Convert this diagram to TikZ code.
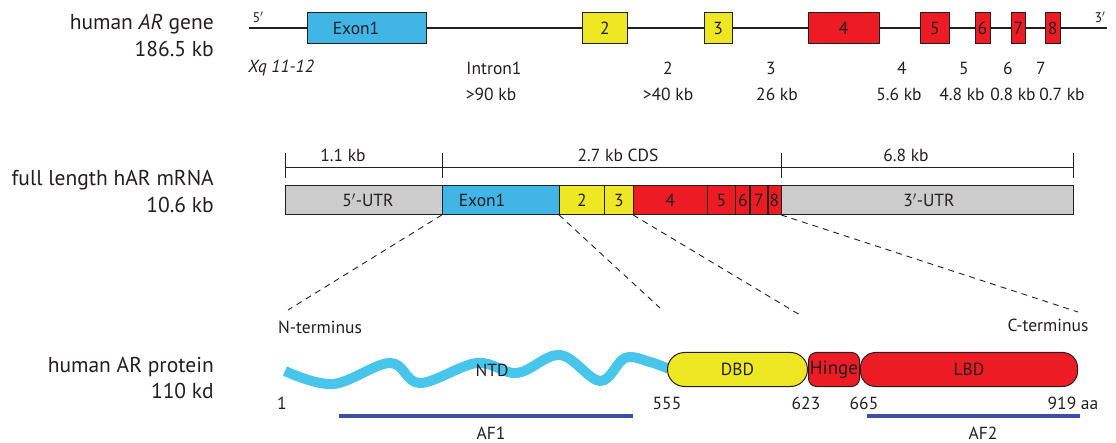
\documentclass[tikz,border=0pt]{standalone}
\usepackage{fontspec}
\setmainfont{PT Sans}
\definecolor{txt}{HTML}{231F20}
\definecolor{eblue}{HTML}{41B6E6}
\definecolor{eyel}{HTML}{EEE824}
\definecolor{ered}{HTML}{ED1C24}
\definecolor{egray}{HTML}{CCCCCC}
\definecolor{wavec}{HTML}{47C5EA}
\definecolor{afc}{HTML}{3F4FA3}
\begin{document}
\begin{tikzpicture}[x=1pt,y=-1pt,
  big/.style={font=\fontsize{21.5}{25}\selectfont, text=txt, inner sep=0pt},
  small/.style={font=\fontsize{17.5}{20}\selectfont, text=txt, inner sep=0pt},
  gbox/.style={draw=txt, line width=0.9pt, inner sep=0pt, anchor=north west,
    minimum height=30.5, font=\fontsize{17.5}{20}\selectfont, text=txt},
  mbox/.style={draw=txt, line width=0.9pt, inner sep=0pt, anchor=north west,
    minimum height=28.5, font=\fontsize{17.5}{20}\selectfont, text=txt},
  pbox/.style={draw=txt, line width=1pt, inner sep=0pt, anchor=north west,
    minimum height=34, font=\fontsize{17.5}{20}\selectfont, text=txt},
  dashline/.style={draw=txt, line width=0.9pt, dash pattern=on 6pt off 5pt},
  afline/.style={draw=afc, line width=3.2pt},
  waveline/.style={draw=wavec, line width=10pt},
]
\useasboundingbox (0,0) rectangle (1116,443);

% ---------------- gene ----------------
\node[big, anchor=base east] (lg1) at (214,30) {human \textit{AR} gene};
\node[big, anchor=base east] (lg2) at (214,57) {186.5 kb};

\coordinate (g5) at (249,28);
\coordinate (g3) at (1107,28);
\draw[txt, line width=2pt] (g5) -- (g3);
\node[small, font=\fontsize{14}{16}\selectfont] (p5) at (258,17) {5$'$};
\node[small, font=\fontsize{14}{16}\selectfont] (p3) at (1100,17) {3$'$};

\node[gbox, fill=eblue, minimum width=118.7] (ge1) at (307,12.5) {};
\node[small] (ge1t) at (356,28) {Exon1};
\node[gbox, fill=eyel, minimum width=45] (ge2) at (582,12.5) {2};
\node[gbox, fill=eyel, minimum width=28.5] (ge3) at (703.5,12.5) {3};
\node[gbox, fill=ered, minimum width=70.5] (ge4) at (808,12.5) {4};
\node[gbox, fill=ered, minimum width=29.5] (ge5) at (919.6,12.5) {5};
\node[gbox, fill=ered, minimum width=15] (ge6) at (974.5,12.5) {6};
\node[gbox, fill=ered, minimum width=14.5] (ge7) at (1010.6,12.5) {7};
\node[gbox, fill=ered, minimum width=15] (ge8) at (1044.6,12.5) {8};

\node[small] (xq) at (281,68) {\textit{Xq 11-12}};
\node[small] (i1) at (494,68) {Intron1};
\node[small] (i1s) at (491,94) {>90 kb};
\node[small] (i2) at (668,68) {2};
\node[small] (i2s) at (668,94) {>40 kb};
\node[small] (i3) at (771,68) {3};
\node[small] (i3s) at (777,94) {26 kb};
\node[small] (i4) at (902,68) {4};
\node[small] (i4s) at (899,94) {5.6 kb};
\node[small] (i5) at (964,68) {5};
\node[small] (i5s) at (962,94) {4.8 kb};
\node[small] (i6) at (1008,68) {6};
\node[small] (i6s) at (1013,94) {0.8 kb};
\node[small] (i7) at (1041,68) {7};
\node[small] (i7s) at (1062,94) {0.7 kb};

% ---------------- mRNA ----------------
\node[big, anchor=base east] (lm1) at (214,186) {full length hAR mRNA};
\node[big, anchor=base east] (lm2) at (214,213) {10.6 kb};

\coordinate (t1) at (285,167);
\coordinate (t2) at (442,167);
\coordinate (t3) at (781,167);
\coordinate (t4) at (1073,167);
\draw[txt, line width=0.9pt] (t1) -- (t4);
\foreach \t in {t1,t2,t3,t4} \draw[txt, line width=0.9pt] ([yshift=14pt]\t) -- ([yshift=-11pt]\t);
\node[small] (s1) at (343,155) {1.1 kb};
\node[small] (s2) at (618,155) {2.7 kb CDS};
\node[small] (s3) at (906,155) {6.8 kb};

\node[mbox, fill=egray, minimum width=157] (mu5) at (285,185.5) {};
\node[small] (mu5t) at (368,200) {5$'$-UTR};
\node[mbox, fill=eblue, minimum width=117] (m1) at (442,185.5) {};
\node[small] (m1t) at (482,200) {Exon1};
\node[mbox, fill=eyel, minimum width=45] (m2) at (559,185.5) {2};
\node[mbox, fill=eyel, minimum width=29] (m3) at (604,185.5) {3};
\node[mbox, fill=ered, minimum width=74] (m4) at (633,185.5) {4};
\node[mbox, fill=ered, minimum width=28] (m5) at (707,185.5) {5};
\node[mbox, fill=ered, minimum width=15] (m6) at (735,185.5) {6};
\node[mbox, fill=ered, minimum width=16.7] (m7) at (750,185.5) {7};
\node[mbox, fill=ered, minimum width=14.3] (m8) at (766.7,185.5) {8};
\draw[txt, line width=1.8pt] (m7.north west) -- (m7.south west);
\draw[txt, line width=1.8pt] (m7.north east) -- (m7.south east);
\node[mbox, fill=egray, minimum width=292] (mu3) at (781,185.5) {};
\node[small] (mu3t) at (929,200) {3$'$-UTR};

% dashed connectors
\coordinate (nt) at (288,310);
\coordinate (dbdtop) at (660,308);
\coordinate (hgtop) at (800,315);
\coordinate (ct) at (1078,312);
\draw[dashline] (m1.south west) -- (nt);
\draw[dashline] (m2.south west) -- (dbdtop);
\draw[dashline] (m4.south west) -- (hgtop);
\draw[dashline] (mu3.south west) -- (ct);

% ---------------- protein ----------------
\node[big, anchor=base east] (lp1) at (214,372) {human AR protein};
\node[big, anchor=base east] (lp2) at (214,398) {110 kd};

\node[small] (nterm) at (320,327) {N-terminus};
\node[small] (cterm) at (1048,325) {C-terminus};

\draw[waveline] plot[smooth, tension=0.6] coordinates {
  (285,371) (333,384) (390,363) (420,383) (477,363) (517,373)
  (560,355) (600,381) (625,358) (650,362) (669,369)};
\node[small] (ntd) at (492,370) {NTD};

\node[pbox, fill=eyel, minimum width=140, rounded corners=17pt] (dbd) at (667,352) {DBD};
\node[pbox, fill=ered, minimum width=51, rounded corners=8pt, font=\fontsize{19}{21}\selectfont] (hinge) at (808,352) {Hinge};
\node[pbox, fill=ered, minimum width=217, rounded corners=15pt] (lbd) at (860,352) {LBD};

\node[small] (n1) at (282,403) {1};
\node[small] (n555) at (667,403) {555};
\node[small] (n623) at (806,403) {623};
\node[small] (n665) at (864,403) {665};
\node[small] (n919) at (1073,403) {919 aa};

\draw[afline] (339,416) -- (633,416);
\draw[afline] (867,416) -- (1080,416);
\node[small] (af1) at (491,433) {AF1};
\node[small] (af2) at (983,433) {AF2};
\end{tikzpicture}
\end{document}
